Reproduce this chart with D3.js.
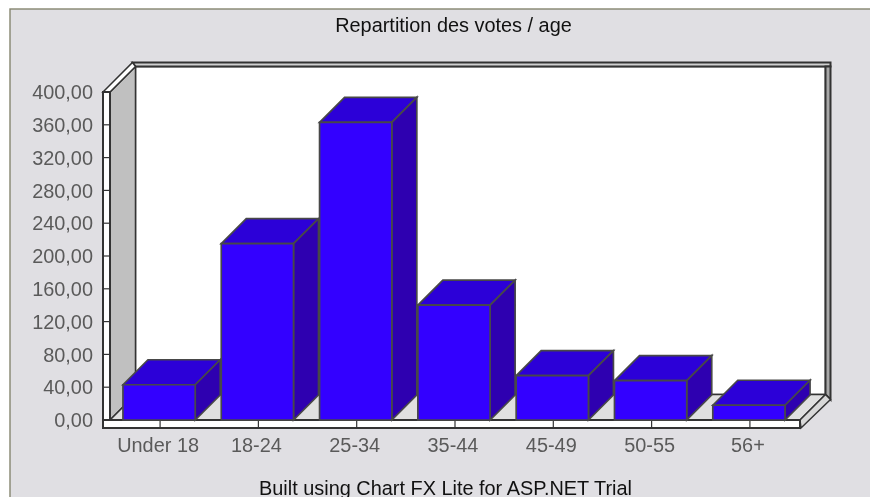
<!DOCTYPE html>
<html><head><meta charset="utf-8">
<script src="https://cdn.jsdelivr.net/npm/d3@7/dist/d3.min.js"></script>
<style>html,body{margin:0;padding:0;background:#fff}svg{display:block;filter:blur(0.35px)}text{font-family:"Liberation Sans",Arial,sans-serif}</style>
</head><body><svg id="c" width="870" height="497"></svg>
<script>
const categories=["Under 18","18-24","25-34","35-44","45-49","50-55","56+"];
const values=[43,215,363,140,54,48,18];
const yTicks=[0,40,80,120,160,200,240,280,320,360,400];
const title="Repartition des votes / age";
const footer="Built using Chart FX Lite for ASP.NET Trial";

const svg=d3.select("#c");
const W=870,H=497,dx=25.5,dy=25.5,bdx=25,bdy=25,FS=19.9;
const x=d3.scaleBand().domain(categories).range([109,799]).paddingInner(0.265).paddingOuter(0.142);
const y=d3.scaleLinear().domain([0,400]).range([420,92]);
const line="#333";
const poly=(pts,fill,sw=1.5,st=line)=>svg.append("polygon").attr("points",pts.map(p=>p.join(",")).join(" ")).attr("fill",fill).attr("stroke",st).attr("stroke-width",sw).attr("stroke-linejoin","miter");

svg.append("rect").attr("x",0).attr("y",0).attr("width",W).attr("height",H).attr("fill","#fff");
svg.append("rect").attr("x",10).attr("y",9).attr("width",W).attr("height",H).attr("fill","#E0DFE3").attr("stroke","#85856f").attr("stroke-width",1.4);

const X0=110,X1=800,Y0=y(0),Y1=y(400);
poly([[X0+dx,Y1-dy],[X1+dx,Y1-dy],[X1+dx,Y0-dy],[X0+dx,Y0-dy]],"#fff");
poly([[X0,Y1],[X0+dx,Y1-dy],[X0+dx,Y0-dy],[X0,Y0]],"#C0C0C0");
poly([[X0,Y0],[X0+dx,Y0-dy],[X1+dx,Y0-dy],[X1,Y0]],"#E0E0E0");
poly([[X0+dx-3,Y1-dy-4],[X1+dx+5,Y1-dy-4],[X1+dx+5,Y1-dy],[X0+dx,Y1-dy]],"#D0D0D0",2);
poly([[X0-7,Y1],[X0+dx-3,Y1-dy-4],[X0+dx,Y1-dy],[X0,Y1]],"#fff");
poly([[X1+dx,Y1-dy],[X1+dx+5,Y1-dy],[X1+dx+5,Y0-dy+5],[X1+dx,Y0-dy]],"#A8A8A8",2);
poly([[X1,Y0],[X1+dx,Y0-dy],[X1+dx+5,Y0-dy+5],[X1+1,Y0+8]],"#D8D8D8");
poly([[X0-7,Y1],[X0,Y1],[X0,Y0+8],[X0-7,Y0+8]],"#fff",2);
poly([[X0-7,Y0],[X1,Y0],[X1,Y0+8],[X0-7,Y0+8]],"#fff",2);
svg.append("rect").attr("x",X0-1).attr("y",Y1).attr("width",2).attr("height",Y0-Y1).attr("fill",line);

const yAxis=d3.axisLeft(y).tickValues(yTicks).tickSize(0).tickPadding(0).tickFormat(d=>d3.format(".2f")(d).replace(".",","));
const gy=svg.append("g").attr("transform",`translate(93,0.3)`).call(yAxis);
gy.select(".domain").remove();
gy.selectAll("text").attr("font-size",FS).attr("fill","#5a5a5a").style("font-family",'"Liberation Sans",Arial,sans-serif');
svg.append("g").selectAll("line").data(yTicks).join("line")
 .attr("x1",X0-7).attr("x2",X0).attr("y1",d=>y(d)).attr("y2",d=>y(d)).attr("stroke",line).attr("stroke-width",1.2);

const xAxis=d3.axisBottom(x).tickSize(0).tickPadding(0);
const gx=svg.append("g").attr("transform",`translate(-1,${Y0+14})`).call(xAxis);
gx.select(".domain").remove();
gx.selectAll("text").attr("font-size",FS).attr("fill","#5a5a5a").attr("dy","0.9em").style("font-family",'"Liberation Sans",Arial,sans-serif');
svg.append("g").selectAll("line").data(categories).join("line")
 .attr("x1",d=>x(d)+x.bandwidth()/2+1).attr("x2",d=>x(d)+x.bandwidth()/2+1).attr("y1",Y0).attr("y2",Y0+8).attr("stroke",line).attr("stroke-width",1.2);

categories.forEach((c,i)=>{
  const l=x(c),r=l+x.bandwidth(),t=y(values[i]),b=y(0);
  poly([[l,t],[l+bdx,t-bdy],[r+bdx,t-bdy],[r,t]],"#2C00D8",1.7,"#484848");
  poly([[r,t],[r+bdx,t-bdy],[r+bdx,b-bdy],[r,b]],"#2E00B0",1.7,"#484848");
  poly([[l,t],[r,t],[r,b],[l,b]],"#3300FF",1.7,"#484848");
});

svg.append("text").attr("x",453.5).attr("y",32).attr("text-anchor","middle").attr("font-size",FS).attr("fill","#111").text(title);
svg.append("text").attr("x",445.5).attr("y",495).attr("text-anchor","middle").attr("font-size",FS).attr("fill","#111").text(footer);
</script></body></html>
